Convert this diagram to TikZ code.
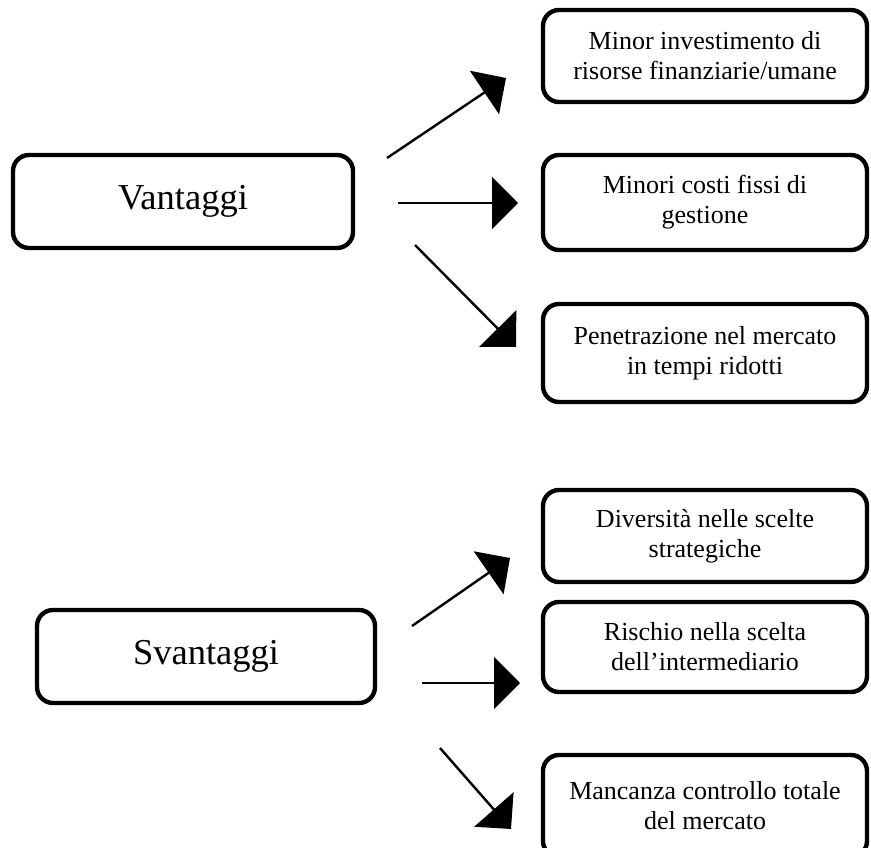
\documentclass[tikz,border=0pt]{standalone}
\usepackage{fontspec}
\setmainfont{Liberation Serif}
\usetikzlibrary{arrows.meta}

\begin{document}
\begin{tikzpicture}[x=1pt,y=-1pt,
  roundbox/.style={draw,line width=4.4pt,rounded corners=16pt,align=center,inner sep=0pt},
  headbox/.style={roundbox,font=\fontsize{36.5}{40}\selectfont},
  itembox/.style={roundbox,minimum width=324pt,font=\fontsize{26}{30}\selectfont},
  link/.style={line width=2.4pt,-{Triangle[length=26pt,width=52pt]}}]
  \clip (0,0) rectangle (871,848);
  \fill[white] (0,0) rectangle (871,848);

  % left-hand headings
  \node[headbox,minimum width=340pt,minimum height=93pt] (pro) at (183,201.5) {Vantaggi};
  \node[headbox,minimum width=338pt,minimum height=93pt] (contro) at (206,656.5) {Svantaggi};

  % advantages
  \node[itembox,minimum height=92pt] (inv) at (705,56) {Minor investimento di\\risorse finanziarie/umane};
  \node[itembox,minimum height=95pt] (costi) at (705,202.5) {Minori costi fissi di\\gestione};
  \node[itembox,minimum height=98pt] (pen) at (705,353) {Penetrazione nel mercato\\in tempi ridotti};

  % disadvantages
  \node[itembox,minimum height=92pt] (div) at (705,536) {Diversità nelle scelte\\strategiche};
  \node[itembox,minimum height=90pt] (rischio) at (705,647) {Rischio nella scelta\\dell’intermediario};
  \node[itembox,minimum height=102pt] (manc) at (705,806) {Mancanza controllo totale\\del mercato};

  % arrow end points
  \coordinate (p1s) at (387,158); \coordinate (p1e) at (506,78);
  \coordinate (p2s) at (398,203); \coordinate (p2e) at (518,203);
  \coordinate (p3s) at (415,245); \coordinate (p3e) at (516,347);
  \coordinate (c1s) at (412,626); \coordinate (c1e) at (510,558);
  \coordinate (c2s) at (422,683); \coordinate (c2e) at (520,683);
  \coordinate (c3s) at (440,748); \coordinate (c3e) at (511,829);

  \draw[link] (p1s) -- (p1e);
  \draw[link] (p2s) -- (p2e);
  \draw[link] (p3s) -- (p3e);
  \draw[link] (c1s) -- (c1e);
  \draw[link] (c2s) -- (c2e);
  \draw[link] (c3s) -- (c3e);
\end{tikzpicture}
\end{document}
